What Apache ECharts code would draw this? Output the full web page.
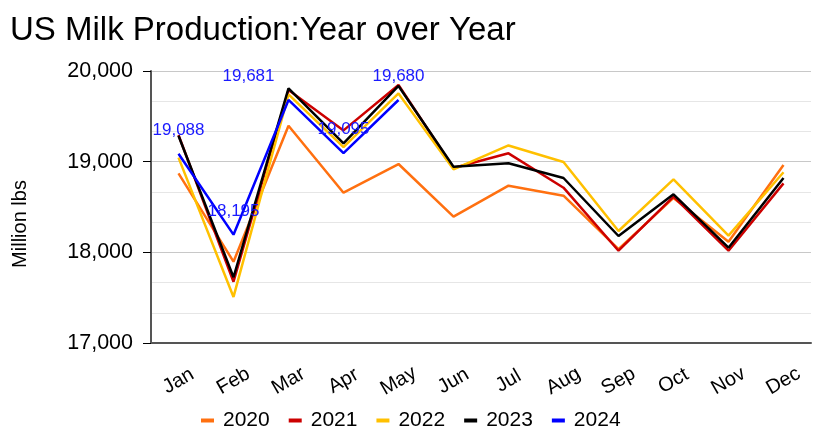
<!DOCTYPE html>
<html>
<head>
<meta charset="utf-8">
<title>US Milk Production</title>
<script src="https://cdn.jsdelivr.net/npm/echarts@6/dist/echarts.min.js"></script>
<style>
  html, body { margin: 0; padding: 0; background: #fff; }
  #chart { width: 818px; height: 437px; }
</style>
</head>
<body>
<div id="chart"></div>
<script>
// months on the x axis
var months = ['Jan', 'Feb', 'Mar', 'Apr', 'May', 'Jun', 'Jul', 'Aug', 'Sep', 'Oct', 'Nov', 'Dec'];

// million lbs
var y2020 = [18871, 17897, 19397, 18658, 18974, 18393, 18735, 18625, 18035, 18600, 18117, 18963];
var y2021 = [19294, 17676, 19790, 19345, 19845, 18930, 19092, 18713, 18018, 18614, 18018, 18761];
var y2022 = [19045, 17508, 19743, 19160, 19753, 18915, 19179, 18996, 18235, 18805, 18184, 18883];
var y2023 = [19285, 17725, 19808, 19202, 19835, 18944, 18982, 18820, 18180, 18640, 18051, 18820];
var y2024 = [19088, 18195, 19681, 19095, 19680];

var yTicks = [17000, 18000, 19000, 20000];

var chart = echarts.init(document.getElementById('chart'));

function fmt(v) {
  return Number(v).toLocaleString('en-US');
}

function line(name, data, color) {
  return {
    name: name,
    type: 'line',
    data: data,
    symbol: 'circle',
    symbolSize: 0,
    lineStyle: { color: color, width: 2.5 },
    itemStyle: { color: color },
    z: 2
  };
}

var s2024 = line('2024', y2024.map(function (v, i) {
  // the Mar label sits a bit to the left in the original
  return i === 2 ? { value: v, label: { offset: [-40, 0] } } : v;
}), '#0000ff');
s2024.label = {
  show: true,
  position: 'top',
  distance: 15,
  color: '#1a1aff',
  fontSize: 17,
  fontFamily: 'Liberation Sans, Arial, sans-serif',
  formatter: function (p) { return fmt(p.value); }
};

var option = {
  backgroundColor: '#fff',
  animation: false,
  textStyle: { fontFamily: 'Liberation Sans, Arial, sans-serif' },
  title: {
    text: 'US Milk Production:Year over Year',
    left: 5,
    top: 9,
    textStyle: { fontSize: 33, fontWeight: 'normal', color: '#000' }
  },
  legend: {
    bottom: 1,
    left: 196,
    itemWidth: 13,
    itemHeight: 4,
    itemGap: 19,
    icon: 'rect',
    textStyle: { fontSize: 21, color: '#000', padding: [0, 0, 0, 4] },
    data: ['2020', '2021', '2022', '2023', '2024']
  },
  grid: { left: 151, right: 7, top: 71, bottom: 94 },
  xAxis: {
    type: 'category',
    data: months,
    boundaryGap: true,
    axisLine: { lineStyle: { color: '#555', width: 2 } },
    axisTick: { alignWithLabel: true, length: 7, lineStyle: { color: '#000' } },
    axisLabel: {
      rotate: 30,
      align: 'center',
      verticalAlign: 'middle',
      margin: 38,
      fontSize: 20,
      color: '#000',
      interval: 0
    }
  },
  yAxis: {
    type: 'value',
    min: yTicks[0],
    max: yTicks[yTicks.length - 1],
    interval: 1000,
    name: 'Million lbs',
    nameLocation: 'middle',
    nameGap: 121,
    nameTextStyle: { fontSize: 20, color: '#000', padding: [0, 34, 0, 0] },
    axisLine: { show: true, lineStyle: { color: '#555', width: 2 } },
    axisTick: { show: true, length: 8, lineStyle: { color: '#000' } },
    axisLabel: {
      fontSize: 21.5,
      color: '#000',
      margin: 18,
      formatter: function (v) { return fmt(v); }
    },
    splitLine: { lineStyle: { color: '#c8c8c8', width: 1 } },
    minorTick: { show: false, splitNumber: 3 },
    minorSplitLine: { show: true, lineStyle: { color: '#e6e6e6', width: 1 } }
  },
  series: [
    line('2020', y2020, '#ff7010'),
    line('2021', y2021, '#cc0000'),
    line('2022', y2022, '#ffc000'),
    line('2023', y2023, '#000000'),
    s2024
  ]
};

chart.setOption(option);
</script>
</body>
</html>
